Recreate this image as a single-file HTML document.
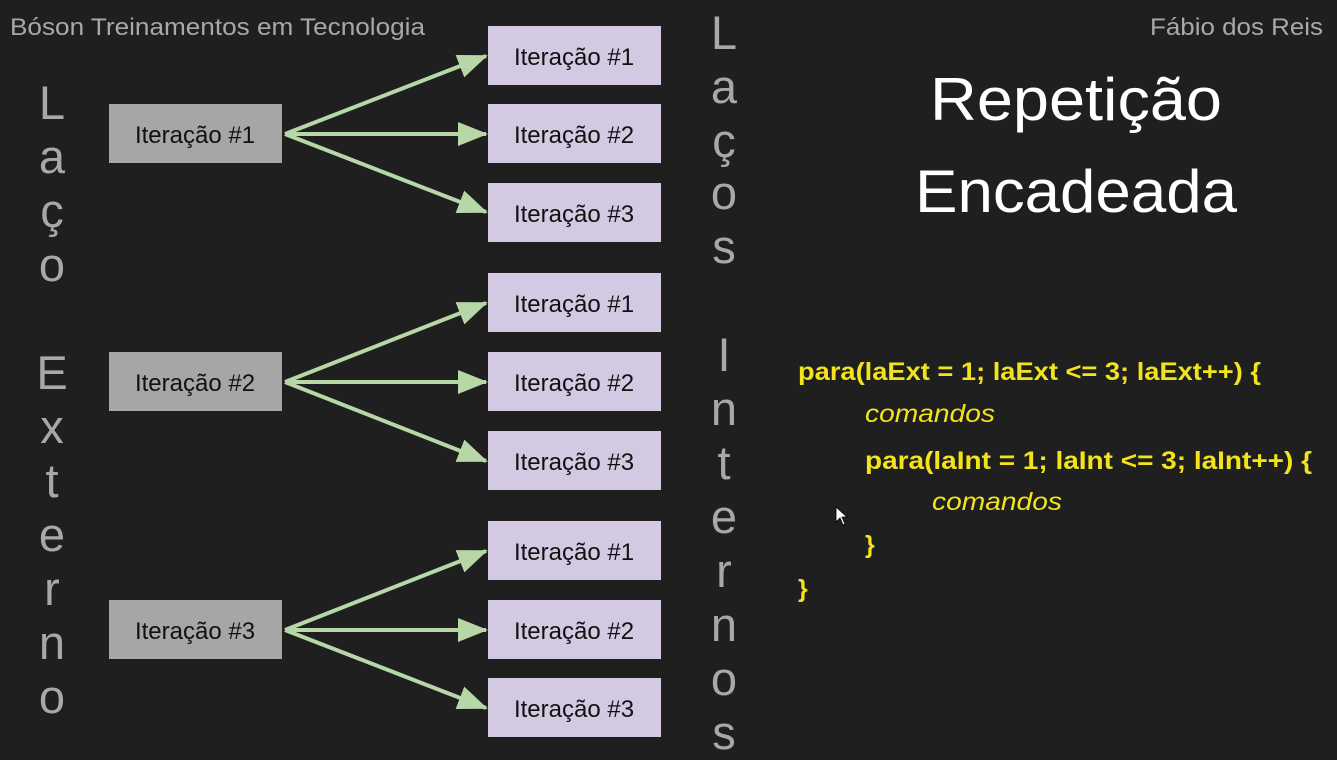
<!DOCTYPE html>
<html><head><meta charset="utf-8"><style>
html,body{margin:0;padding:0;background:#1f1f1f;}
svg{display:block;}
</style></head><body>
<svg width="1337" height="760" viewBox="0 0 1337 760" xmlns="http://www.w3.org/2000/svg" font-family="'Liberation Sans', sans-serif">
<rect width="1337" height="760" fill="#1f1f1f"/>
<defs>
<marker id="a" markerWidth="30" markerHeight="24" refX="28" refY="12" orient="auto" markerUnits="userSpaceOnUse"><path d="M0,0 L30,12 L0,24 z" fill="#b7d8a6"/></marker></defs>
<text x="10" y="35" font-size="24" fill="#a8a8a8" textLength="415" lengthAdjust="spacingAndGlyphs">Bóson Treinamentos em Tecnologia</text>
<text x="1150" y="35" font-size="24" fill="#a8a8a8" textLength="173" lengthAdjust="spacingAndGlyphs">Fábio dos Reis</text>
<g font-size="47" fill="#a8a8a8" text-anchor="middle">
<text x="52" y="119">L</text><text x="52" y="173">a</text><text x="52" y="227">ç</text><text x="52" y="281">o</text>
<text x="52" y="389">E</text><text x="52" y="443">x</text><text x="52" y="497">t</text><text x="52" y="551">e</text><text x="52" y="605">r</text><text x="52" y="659">n</text><text x="52" y="713">o</text>
<text x="724" y="49">L</text><text x="724" y="103">a</text><text x="724" y="157">ç</text><text x="724" y="209">o</text><text x="724" y="263">s</text>
<text x="724" y="371">I</text><text x="724" y="425">n</text><text x="724" y="479">t</text><text x="724" y="533">e</text><text x="724" y="587">r</text><text x="724" y="641">n</text><text x="724" y="695">o</text><text x="724" y="749">s</text>
</g>
<g font-size="24" fill="#111" text-anchor="middle">
<rect x="109" y="104" width="173" height="59" fill="#a6a6a6"/><text x="195" y="143">Iteração #1</text>
<rect x="109" y="352" width="173" height="59" fill="#a6a6a6"/><text x="195" y="391">Iteração #2</text>
<rect x="109" y="600" width="173" height="59" fill="#a6a6a6"/><text x="195" y="639">Iteração #3</text>
</g>
<g font-size="24" fill="#111" text-anchor="middle">
<rect x="488" y="26" width="173" height="59" fill="#d4c9e2"/><text x="574" y="65">Iteração #1</text>
<rect x="488" y="104" width="173" height="59" fill="#d4c9e2"/><text x="574" y="143">Iteração #2</text>
<rect x="488" y="183" width="173" height="59" fill="#d4c9e2"/><text x="574" y="222">Iteração #3</text>
<rect x="488" y="273" width="173" height="59" fill="#d4c9e2"/><text x="574" y="312">Iteração #1</text>
<rect x="488" y="352" width="173" height="59" fill="#d4c9e2"/><text x="574" y="391">Iteração #2</text>
<rect x="488" y="431" width="173" height="59" fill="#d4c9e2"/><text x="574" y="470">Iteração #3</text>
<rect x="488" y="521" width="173" height="59" fill="#d4c9e2"/><text x="574" y="560">Iteração #1</text>
<rect x="488" y="600" width="173" height="59" fill="#d4c9e2"/><text x="574" y="639">Iteração #2</text>
<rect x="488" y="678" width="173" height="59" fill="#d4c9e2"/><text x="574" y="717">Iteração #3</text>
</g>
<g stroke="#b7d8a6" stroke-width="4" fill="none" marker-end="url(#a)">
<line x1="285" y1="134" x2="486" y2="56"/><line x1="285" y1="134" x2="486" y2="134"/><line x1="285" y1="134" x2="486" y2="212"/>
<line x1="285" y1="382" x2="486" y2="303"/><line x1="285" y1="382" x2="486" y2="382"/><line x1="285" y1="382" x2="486" y2="461"/>
<line x1="285" y1="630" x2="486" y2="551"/><line x1="285" y1="630" x2="486" y2="630"/><line x1="285" y1="630" x2="486" y2="708"/>
</g>
<g fill="#ffffff" font-size="60" text-anchor="middle">
<text x="1076" y="120" textLength="292" lengthAdjust="spacingAndGlyphs">Repetição</text>
<text x="1076" y="212" textLength="322" lengthAdjust="spacingAndGlyphs">Encadeada</text>
</g>
<g fill="#f2e31c" font-size="25">
<text x="798" y="380" font-weight="bold" textLength="463" lengthAdjust="spacingAndGlyphs">para(laExt = 1; laExt &lt;= 3; laExt++) {</text>
<text x="865" y="422" font-style="italic" textLength="130" lengthAdjust="spacingAndGlyphs">comandos</text>
<text x="865" y="469" font-weight="bold" textLength="447" lengthAdjust="spacingAndGlyphs">para(laInt = 1; laInt &lt;= 3; laInt++) {</text>
<text x="932" y="510" font-style="italic" textLength="130" lengthAdjust="spacingAndGlyphs">comandos</text>
<text x="865" y="553" font-weight="bold">}</text>
<text x="798" y="597" font-weight="bold">}</text>
</g>
<path d="M836,507 L836,522 L840,518 L843,525 L845,524 L842,517 L847,517 z" fill="#fff" stroke="#000" stroke-width="0.8"/>
</svg>
</body></html>
